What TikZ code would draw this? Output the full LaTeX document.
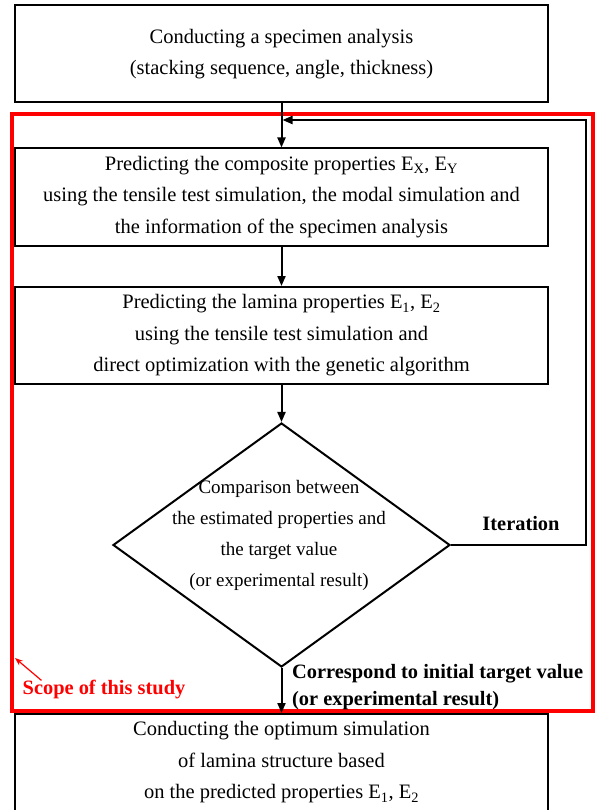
\documentclass[tikz,border=0pt]{standalone}
\usepackage{fontspec}
\setmainfont{Liberation Serif}
\usetikzlibrary{shapes.geometric, arrows.meta}

\begin{document}
\begin{tikzpicture}
                [x=1pt, y=-1pt,
                bsty/.style={rectangle, draw=black, line width=2pt, minimum width=533pt, minimum height=97pt, inner sep=0pt, align=center, font=\fontsize{20.5}{31.5}\selectfont},
                dsty/.style={diamond, draw=black, line width=2pt, minimum width=337pt, minimum height=244pt, inner sep=0pt},
                tsty/.style={align=center, inner sep=0pt, font=\fontsize{19}{31}\selectfont},
                lsty/.style={align=left, inner sep=0pt, font=\bfseries\fontsize{20.4}{27}\selectfont},
                asty/.style={-{Triangle[length=10pt, width=8pt]}, line width=2pt},
                rsty/.style={draw=red, line width=4pt}]
                \useasboundingbox (0,0) rectangle (596,810);
                \clip (0,0) rectangle (596,810);
                % scope of the study
                \draw[rsty] (12,114) rectangle (593,711);
                % nodes
                \node[bsty] (spec) at (281.5,54)  {Conducting a specimen analysis\\(stacking sequence, angle, thickness)};
                \node[bsty] (comp) at (281.5,197) {Predicting the composite properties E\textsubscript{X}, E\textsubscript{Y}\\using the tensile test simulation, the modal simulation and\\the information of the specimen analysis};
                \node[bsty] (lam)  at (281.5,335.5) {Predicting the lamina properties E\textsubscript{1}, E\textsubscript{2}\\using the tensile test simulation and\\direct optimization with the genetic algorithm};
                \node[dsty] (cmp)  at (281.5,545) {};
                \node[tsty] (cmptxt) at (279,535) {Comparison between\\the estimated properties and\\the target value\\(or experimental result)};
                \node[bsty] (opt)  at (281.5,762.5) {Conducting the optimum simulation\\of lamina structure based\\on the predicted properties E\textsubscript{1}, E\textsubscript{2}};
                \coordinate (back) at (282.5,120);
                \coordinate (edge) at (15,658);
                % labels
                \node[lsty] (iter) at (521,524) {Iteration};
                \node[lsty, anchor=west] (match) at (292,687) {Correspond to initial target value\\(or experimental result)};
                \node[lsty, text=red] (scope) at (104,690) {Scope of this study};
                % vertices
                \draw[asty] (spec) -- (comp);
                \draw[asty] (comp) -- (lam);
                \draw[asty] (lam) -- (cmp);
                \draw[asty] (cmp) -- (opt);
                \draw[asty] (cmp.east) -- ++(135,0) |- (back);
                \draw[red, line width=1.2pt, -{Stealth[length=8pt, width=6pt]}] ([xshift=19pt]scope.north west) -- (edge);
            \end{tikzpicture}
\end{document}
